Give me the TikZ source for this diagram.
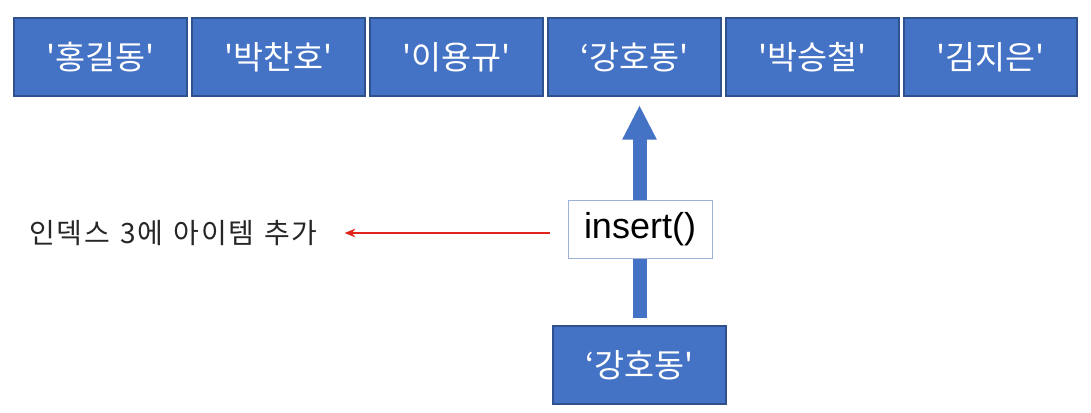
\documentclass[tikz,border=0pt]{standalone}
\usepackage{fontspec}
\setmainfont{Liberation Sans}
\newfontfamily\kofont{Noto Sans CJK KR}
\newfontfamily\notefont[WordSpace=1.4,LetterSpace=5]{Noto Sans CJK KR}
\usepackage{tikz}
\usetikzlibrary{positioning,arrows.meta}
\definecolor{boxblue}{HTML}{4472C4}
\definecolor{boxedge}{HTML}{2F528F}
\definecolor{insedge}{HTML}{9DB0D6}
\definecolor{notered}{HTML}{E2231A}
\tikzstyle{item}=[draw=boxedge,fill=boxblue,line width=1.5pt,minimum width=129.75pt,
  minimum height=58.5pt,inner sep=0pt,text=white,font=\kofont\fontsize{24.5}{24.5}\selectfont]
\tikzstyle{callbox}=[draw=insedge,fill=white,line width=0.75pt,minimum width=108pt,
  minimum height=43.5pt,inner sep=0pt,font=\fontsize{27}{27}\selectfont]
\tikzstyle{note}=[font=\notefont\fontsize{21}{21}\selectfont,text=black!85,inner sep=0pt]
\tikzstyle{bigarrow}=[draw=boxblue,line width=10.5pt,-{Triangle[length=26pt,width=24pt]}]
\tikzstyle{redarrow}=[draw=notered,line width=1.1pt,-{Stealth[length=8pt,width=6.5pt]}]

\begin{document}
\begin{tikzpicture}[x=0.75pt,y=-0.75pt,node distance=2.25pt]
  \useasboundingbox (0,0) rectangle (1091,412);
  % list items
  \node[item] (hong) at (100.5,57) {'홍길동'};
  \node[item,right=of hong] (chanho) {'박찬호'};
  \node[item,right=of chanho] (yonggyu) {'이용규'};
  \node[item,right=of yonggyu] (kang) {‘강호동'};
  \node[item,right=of kang] (seungchul) {'박승철'};
  \node[item,right=of seungchul] (jieun) {'김지은'};
  % new item
  \node[item] (newkang) at (639.5,365) {‘강호동'};
  \draw[bigarrow,shorten <=5pt,shorten >=6pt] (newkang.north) -- (newkang.north |- kang.south);
  \node[callbox] (ins) at (640,229) {insert()};
  \node[note,anchor=east] (note) at (318,233) {인덱스 3에 아이템 추가};
  \draw[redarrow,shorten <=13.5pt,shorten >=20pt] (ins.west |- note.east) -- (note.east);
\end{tikzpicture}
\end{document}
